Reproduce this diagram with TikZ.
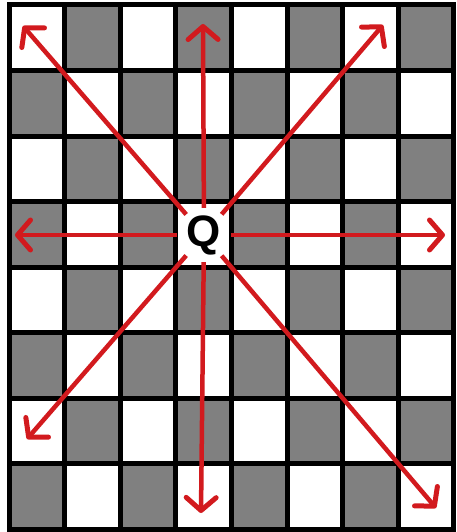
\documentclass[tikz,border=0pt]{standalone}
\usepackage{fontspec}
\setmainfont{Liberation Sans}
\usetikzlibrary{arrows.meta}
\definecolor{sqgrey}{RGB}{128,128,128}
\definecolor{arrowred}{RGB}{210,26,30}
\begin{document}
\begin{tikzpicture}[x=1pt,y=-1pt,
  move/.style={draw=arrowred, line width=4.5pt, -{Straight Barb[length=13pt,width=30pt,line width=5pt,round]}},
  gridline/.style={line width=5pt, draw=black},
  queen/.style={circle, minimum size=54pt, inner sep=0pt, font=\fontsize{44}{44}\selectfont\bfseries}]
\useasboundingbox (0,0) rectangle (456,532);
\fill[white] (0,0) rectangle (456,532);
\foreach \i in {0,...,7}{\foreach \j in {0,...,7}{
  \pgfmathtruncatemacro{\p}{mod(\i+\j,2)}
  \ifnum\p=1
    \fill[sqgrey] ({9+55.6*\i},{5+65.5*\j}) rectangle ({9+55.6*(\i+1)},{5+65.5*(\j+1)});
  \fi
}}
\foreach \i in {1,...,7}{
  \draw[gridline] ({9+55.6*\i},5) -- ({9+55.6*\i},529);
  \draw[gridline] (9,{5+65.5*\i}) -- (453.8,{5+65.5*\i});
}
\draw[gridline] (9,5) rectangle (453.8,529);
\node[queen] (Q) at (204,235) {Q};
\coordinate (tUL) at (23,26);
\coordinate (tU) at (203,24);
\coordinate (tUR) at (383,25);
\coordinate (tL) at (15,235);
\coordinate (tR) at (445,235);
\coordinate (tDL) at (27,439);
\coordinate (tD) at (201,513);
\coordinate (tDR) at (436,508);
\foreach \t in {tUL,tU,tUR,tL,tR,tDL,tD,tDR}{
  \draw[move] (Q) -- (\t);
}
\end{tikzpicture}
\end{document}
